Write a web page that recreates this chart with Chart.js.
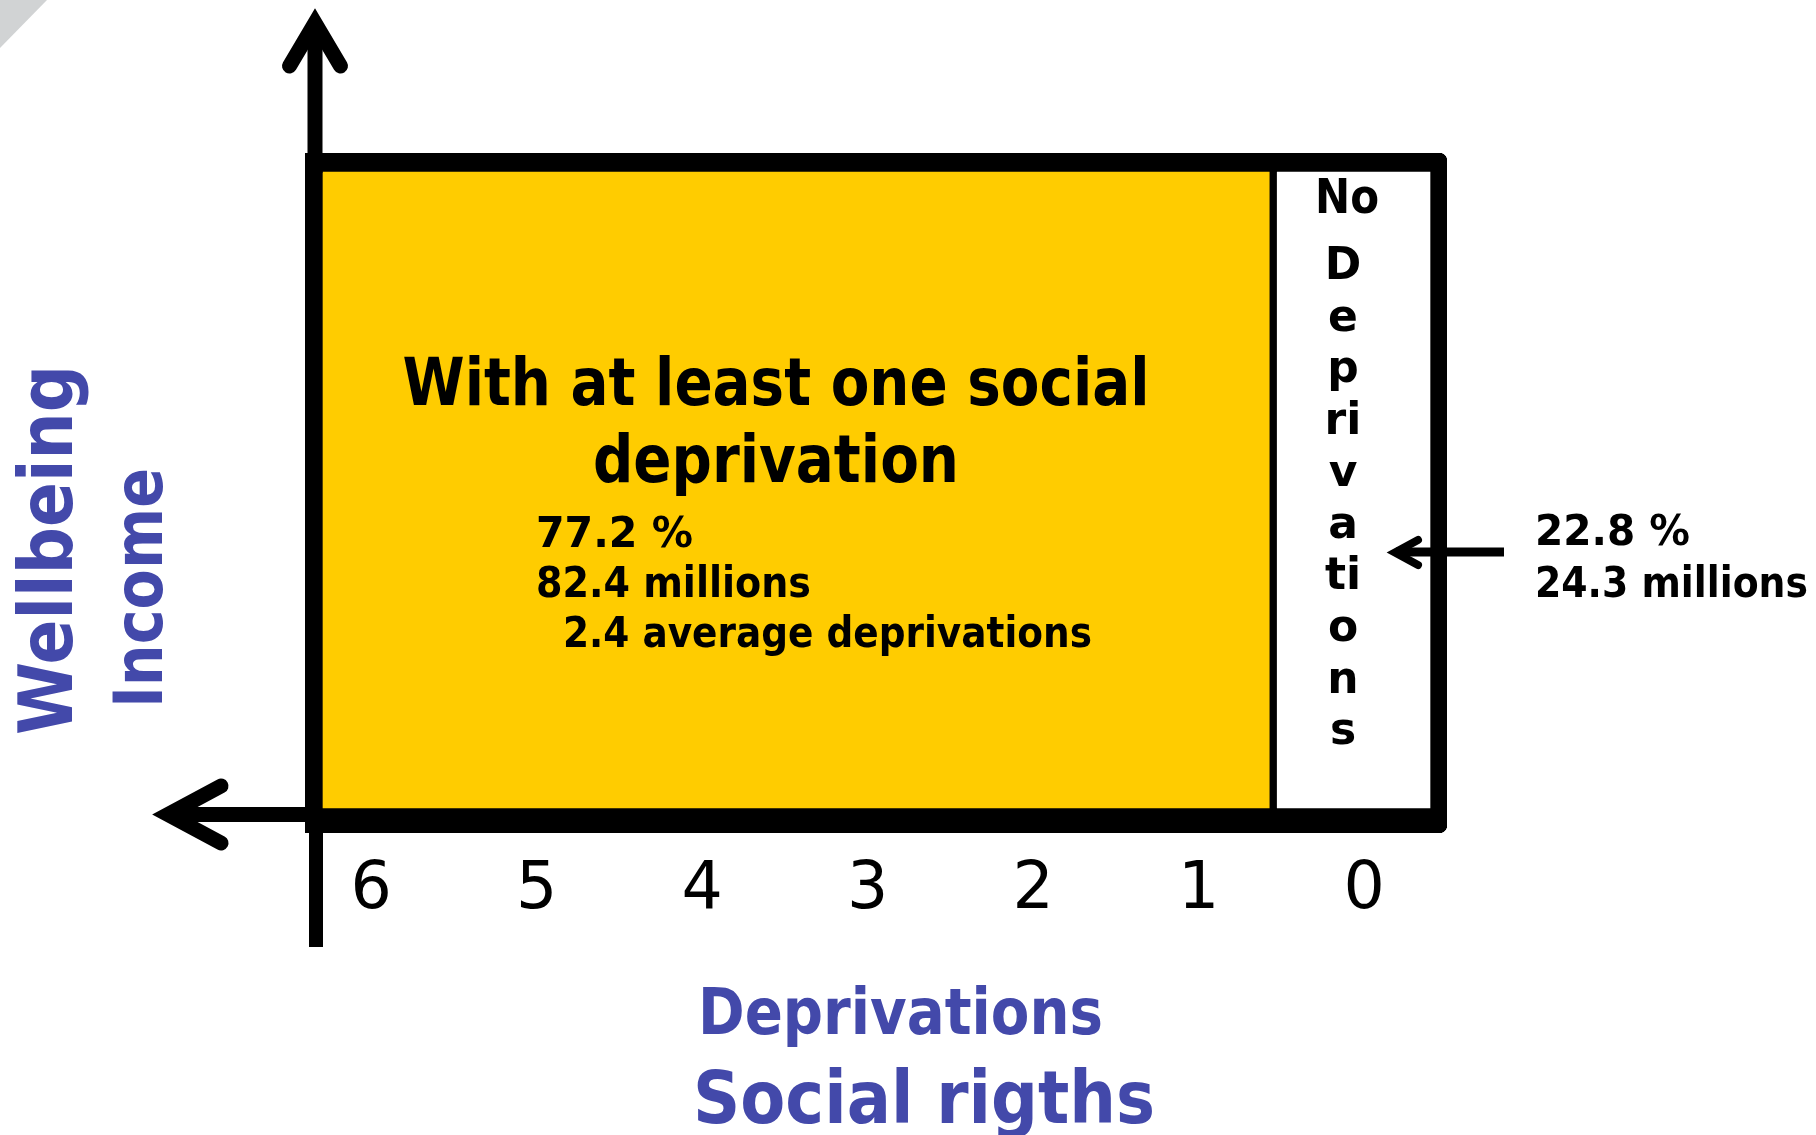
<!DOCTYPE html>
<html><head><meta charset="utf-8">
<script src="https://cdn.jsdelivr.net/npm/chart.js@4/dist/chart.umd.min.js"></script>
<style>html,body{margin:0;padding:0;background:#fff;overflow:hidden}canvas{display:block}</style>
</head><body>
<canvas id="c" width="1816" height="1135"></canvas>
<script>
// ---------- data ----------
const groups = ['With at least one social deprivation', 'No Deprivations'];
const groupShare = [77.2, 22.8];          // % of population
const groupMillions = [82.4, 24.3];       // millions of people
const avgDeprivations = 2.4;              // average deprivations of first group
const deprivationSpan = [[0.55, 6.4], [-0.5, 0.55]]; // extent of each block on the deprivations axis
const deprivationTicks = [6, 5, 4, 3, 2, 1, 0];
const tickLabels = ['6', '5', '4', '3', '2', '1', '0'];
const axisMin = -0.5, axisMax = 6.4;
const xTitle = ['Deprivations', 'Social rigths'];
const yTitle = ['Wellbeing', 'Income'];
const boxTitle = ['With at least one social', 'deprivation'];
const sideWord = ['No', 'D', 'e', 'p', 'ri', 'v', 'a', 'ti', 'o', 'n', 's'];

// ---------- style ----------
const FONT = '"DejaVu Sans", Verdana, sans-serif';
const BLUE = '#4349AA';
const YELLOW = '#FFCC00';

function txt(ctx, s, x, y, size, o = {}) {
  ctx.save();
  ctx.font = `${o.weight || 'bold'} ${size}px ${FONT}`;
  ctx.fillStyle = o.color || '#000';
  ctx.textAlign = o.align || 'left';
  ctx.textBaseline = 'alphabetic';
  ctx.translate(x, y);
  if (o.rot) ctx.rotate(o.rot);
  if (o.maxW) ctx.fillText(s, 0, 0, o.maxW); else ctx.fillText(s, 0, 0);
  ctx.restore();
}

const decor = {
  id: 'decor',
  beforeDraw(chart) {
    const ctx = chart.ctx;
    ctx.save();
    ctx.fillStyle = '#d1d3d4';
    ctx.beginPath(); ctx.moveTo(0, 0); ctx.lineTo(47, 0); ctx.lineTo(0, 48); ctx.closePath(); ctx.fill();
    ctx.restore();
  },
  afterDatasetsDraw(chart) {
    const ctx = chart.ctx;
    const ca = chart.chartArea;
    const ax = ca.left + 10;          // vertical axis line
    const ay = ca.bottom - 18.5;      // horizontal axis line
    ctx.save();
    ctx.strokeStyle = '#000';
    // vertical axis with arrow
    ctx.lineCap = 'butt';
    ctx.lineWidth = 15;
    ctx.beginPath(); ctx.moveTo(ax, ca.top + 20); ctx.lineTo(ax, 24); ctx.stroke();
    ctx.lineWidth = 14;
    ctx.beginPath(); ctx.moveTo(ax + 1, ca.bottom - 5); ctx.lineTo(ax + 1, 947); ctx.stroke();
    ctx.lineWidth = 15;
    ctx.lineJoin = 'miter'; ctx.lineCap = 'round';
    ctx.beginPath(); ctx.moveTo(ax - 25.5, 66); ctx.lineTo(ax, 23); ctx.lineTo(ax + 25.5, 66); ctx.stroke();
    // horizontal axis with arrow
    ctx.lineCap = 'butt';
    ctx.beginPath(); ctx.moveTo(ca.left + 5, ay); ctx.lineTo(170, ay); ctx.stroke();
    ctx.lineCap = 'round';
    ctx.beginPath(); ctx.moveTo(221, ay - 28.5); ctx.lineTo(168, ay); ctx.lineTo(221, ay + 28.5); ctx.stroke();
    // side arrow pointing to "No deprivations"
    ctx.lineWidth = 9; ctx.lineCap = 'butt';
    ctx.beginPath(); ctx.moveTo(1504, 552); ctx.lineTo(1396, 552); ctx.stroke();
    ctx.lineWidth = 8; ctx.lineCap = 'round';
    ctx.beginPath(); ctx.moveTo(1418, 540); ctx.lineTo(1395, 552.5); ctx.lineTo(1418, 565); ctx.stroke();
    ctx.restore();

    // texts inside yellow block
    txt(ctx, boxTitle[0], 776, 405, 66, { align: 'center', maxW: 747 });
    txt(ctx, boxTitle[1], 776, 482, 66, { align: 'center', maxW: 366 });
    txt(ctx, `${groupShare[0]} %`, 536, 547, 42, { maxW: 157 });
    txt(ctx, `${groupMillions[0]} millions`, 536, 597, 42, { maxW: 275 });
    txt(ctx, `${avgDeprivations} average deprivations`, 563, 647, 42, { maxW: 529 });

    // vertical word in white block
    txt(ctx, sideWord[0], 1347, 213, 48, { align: 'center', maxW: 64 });
    for (let i = 1; i < sideWord.length; i++) {
      txt(ctx, sideWord[i], 1343, 279 + (i - 1) * 51.7, 44, { align: 'center' });
    }

    // right annotation
    txt(ctx, `${groupShare[1]} %`, 1535, 545, 43, { maxW: 155 });
    txt(ctx, `${groupMillions[1]} millions`, 1535, 597, 43, { maxW: 273 });

    // axis titles
    txt(ctx, yTitle[0], 72, 735, 75, { rot: -Math.PI / 2, color: BLUE, maxW: 370 });
    txt(ctx, yTitle[1], 162, 708, 67, { rot: -Math.PI / 2, color: BLUE, maxW: 240 });
    txt(ctx, xTitle[0], 698, 1034, 64, { color: BLUE, maxW: 405 });
    txt(ctx, xTitle[1], 693, 1123, 73, { color: BLUE, maxW: 462 });
  }
};

new Chart(document.getElementById('c'), {
  type: 'bar',
  data: {
    labels: ['Population'],
    datasets: [
      {
        label: groups[0], data: [deprivationSpan[0]],
        backgroundColor: YELLOW, borderColor: '#000',
        borderWidth: { top: 19, bottom: 25, left: 18, right: 4 },
        borderSkipped: false, grouped: false, barPercentage: 1, categoryPercentage: 1
      },
      {
        label: groups[1], data: [deprivationSpan[1]],
        backgroundColor: '#FFFFFF', borderColor: '#000',
        borderWidth: { top: 19, bottom: 25, left: 4, right: 17 },
        borderRadius: { topLeft: 0, bottomLeft: 0, topRight: 8, bottomRight: 8 },
        borderSkipped: false, grouped: false, barPercentage: 1, categoryPercentage: 1
      }
    ]
  },
  options: {
    indexAxis: 'y',
    responsive: false,
    animation: false,
    events: [],
    layout: { padding: { left: 305, right: 369, top: 153, bottom: 182 } },
    plugins: { legend: { display: false }, tooltip: { enabled: false }, title: { display: false } },
    scales: {
      x: {
        type: 'linear', reverse: true, min: axisMin, max: axisMax,
        afterBuildTicks: s => { s.ticks = deprivationTicks.map(v => ({ value: v })); },
        afterFit: s => { s.height = 120; },
        grid: { display: false, drawTicks: false },
        border: { display: false },
        ticks: {
          font: { family: 'DejaVu Sans', size: 65 }, color: '#000', padding: 19,
          autoSkip: false, maxRotation: 0,
          callback: v => tickLabels[deprivationTicks.indexOf(v)]
        }
      },
      y: { type: 'category', display: false, offset: true }
    }
  },
  plugins: [decor]
});
</script>
</body></html>
